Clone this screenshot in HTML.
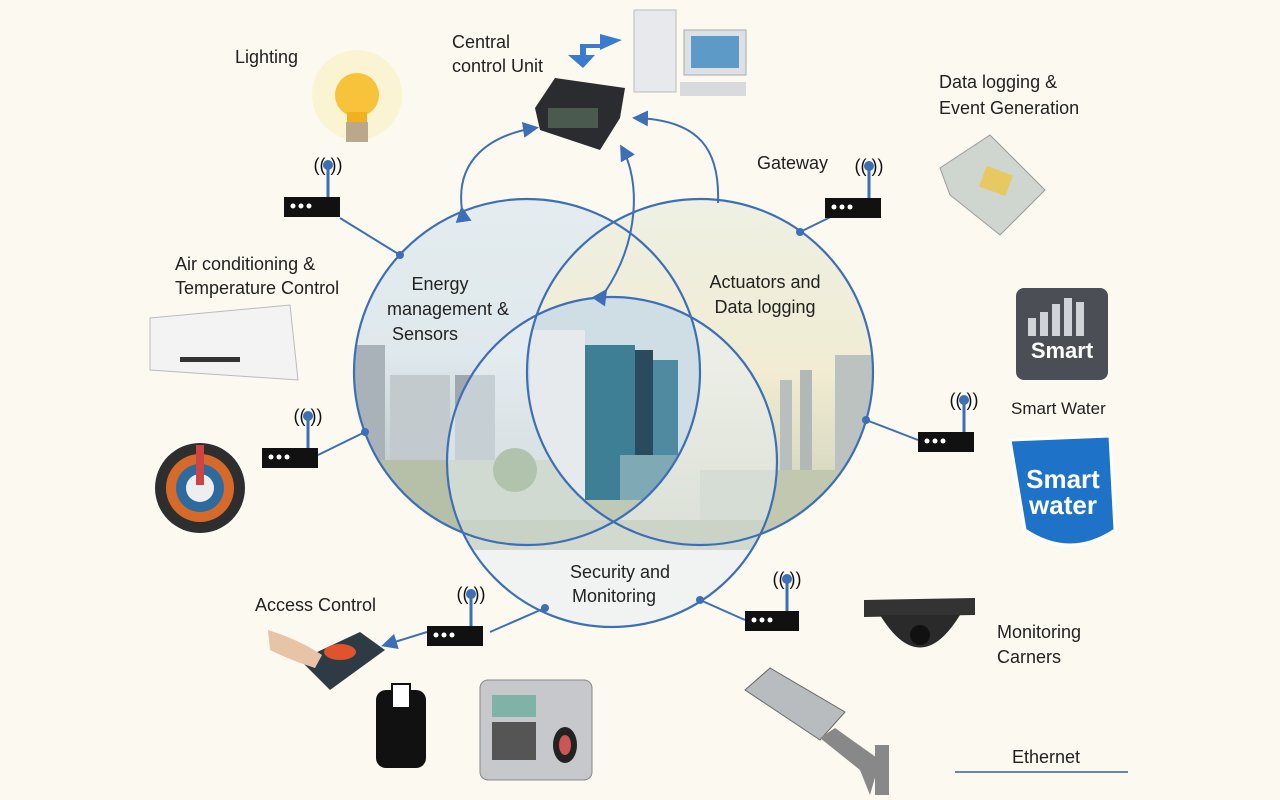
<!DOCTYPE html>
<html><head><meta charset="utf-8">
<style>
html,body{margin:0;padding:0;background:#fbf9f0;}
svg{display:block;font-family:"Liberation Sans",sans-serif;}
</style></head><body>
<svg width="1280" height="800" viewBox="0 0 1280 800" xmlns="http://www.w3.org/2000/svg">
<defs>
<linearGradient id="sky" x1="0" y1="0" x2="0" y2="1">
<stop offset="0" stop-color="#e4ecef"/><stop offset="0.45" stop-color="#dfe8ec"/><stop offset="0.7" stop-color="#c9d3d6"/><stop offset="1" stop-color="#b8c4b2"/>
</linearGradient>
<linearGradient id="warm" x1="0" y1="0" x2="0" y2="1">
<stop offset="0" stop-color="#eef0e4"/><stop offset="0.5" stop-color="#f1ecd2"/><stop offset="1" stop-color="#c8cdb6"/>
</linearGradient>
<clipPath id="cL"><circle cx="527" cy="372" r="173"/></clipPath>
<clipPath id="cR"><circle cx="700" cy="372" r="173"/></clipPath>
<clipPath id="cB"><circle cx="612" cy="462" r="165"/></clipPath>
<marker id="ar" markerWidth="8" markerHeight="8" refX="6" refY="4" orient="auto"><path d="M0,0 L8,4 L0,8 Z" fill="#3d6fb6"/></marker>
</defs>
<rect width="1280" height="800" fill="#fbf9f0"/>

<!-- circle fills -->
<circle cx="527" cy="372" r="173" fill="url(#sky)"/>
<circle cx="700" cy="372" r="173" fill="url(#warm)"/>
<g clip-path="url(#cL)">
<rect x="355" y="345" width="30" height="120" fill="#a9b2b8"/>
<rect x="390" y="375" width="60" height="95" fill="#c3cacd"/>
<rect x="455" y="375" width="40" height="100" fill="#9ea8ae"/>
<rect x="340" y="460" width="360" height="90" fill="#b6c0a8"/>
<circle cx="515" cy="470" r="22" fill="#6f8f5a"/>
</g>
<g clip-path="url(#cR)">
<rect x="780" y="380" width="12" height="100" fill="#b9bfbf"/>
<rect x="800" y="370" width="12" height="110" fill="#b2b8b8"/>
<rect x="835" y="355" width="40" height="130" fill="#bcc2c0"/>
<rect x="700" y="470" width="180" height="80" fill="#c2c8b0"/>
</g>
<circle cx="612" cy="462" r="165" fill="#e7eef2" opacity="0.55"/>
<g clip-path="url(#cB)">
<rect x="440" y="520" width="350" height="30" fill="#c5cfc0" opacity="0.7"/>
</g>
<!-- center building -->
<g clip-path="url(#cL)"><g clip-path="url(#cR)"><g clip-path="url(#cB)">
<rect x="500" y="290" width="220" height="250" fill="#cfdde4"/>
<rect x="530" y="330" width="55" height="180" fill="#e6eaec"/>
<rect x="585" y="345" width="50" height="165" fill="#3f7f95"/>
<rect x="635" y="350" width="18" height="160" fill="#2a4a5e"/>
<rect x="653" y="360" width="25" height="150" fill="#4e8aa0"/>
<rect x="620" y="455" width="60" height="50" fill="#7fa9b5"/>
<rect x="500" y="500" width="220" height="40" fill="#bfc9b8"/>
</g></g></g>
<g fill="none" stroke="#3d6fb6" stroke-width="2.2">
<circle cx="527" cy="372" r="173"/>
<circle cx="700" cy="372" r="173"/>
<circle cx="612" cy="462" r="165"/>
</g>

<!-- circle labels -->
<g font-size="18" fill="#222" text-anchor="middle">
<text x="440" y="290">Energy</text>
<text x="448" y="315">management &amp;</text>
<text x="425" y="340">Sensors</text>
<text x="765" y="288">Actuators and</text>
<text x="765" y="313">Data logging</text>
<text x="620" y="578">Security and</text>
<text x="614" y="602">Monitoring</text>
</g>

<!-- connectors -->
<g fill="none" stroke="#3d6fb6" stroke-width="2">
<path d="M462,210 C455,160 490,135 535,128" marker-end="url(#ar)" marker-start="url(#ar)"/>
<path d="M605,292 C640,240 640,180 622,148" marker-end="url(#ar)" marker-start="url(#ar)"/>
<path d="M718,203 C720,150 700,120 636,118" marker-end="url(#ar)"/>
<line x1="340" y1="218" x2="400" y2="255"/>
<line x1="855" y1="205" x2="800" y2="232"/>
<line x1="318" y1="455" x2="365" y2="432"/>
<line x1="866" y1="420" x2="918" y2="440"/>
<line x1="545" y1="608" x2="490" y2="632"/>
<line x1="427" y1="632" x2="385" y2="645" marker-end="url(#ar)"/>
<line x1="700" y1="600" x2="745" y2="620"/>
</g>
<g fill="#3d6fb6">
<circle cx="400" cy="255" r="4"/><circle cx="800" cy="232" r="4"/><circle cx="365" cy="432" r="4"/>
<circle cx="866" cy="420" r="4"/><circle cx="545" cy="608" r="4"/><circle cx="700" cy="600" r="4"/>
</g>

<!-- routers -->
<g id="routers">
<g transform="translate(284,197)"><rect width="56" height="20" fill="#111"/><circle cx="9" cy="9" r="2.5" fill="#fff"/><circle cx="17" cy="9" r="2.5" fill="#fff"/><circle cx="25" cy="9" r="2.5" fill="#fff"/><line x1="44" y1="0" x2="44" y2="-30" stroke="#3d6fb6" stroke-width="3"/><circle cx="44" cy="-32" r="5" fill="#3d6fb6"/><text x="44" y="-26" font-size="18" text-anchor="middle" fill="#111">((  ))</text></g>
<g transform="translate(825,198)"><rect width="56" height="20" fill="#111"/><circle cx="9" cy="9" r="2.5" fill="#fff"/><circle cx="17" cy="9" r="2.5" fill="#fff"/><circle cx="25" cy="9" r="2.5" fill="#fff"/><line x1="44" y1="0" x2="44" y2="-30" stroke="#3d6fb6" stroke-width="3"/><circle cx="44" cy="-32" r="5" fill="#3d6fb6"/><text x="44" y="-26" font-size="18" text-anchor="middle" fill="#111">((  ))</text></g>
<g transform="translate(262,448)"><rect width="56" height="20" fill="#111"/><circle cx="9" cy="9" r="2.5" fill="#fff"/><circle cx="17" cy="9" r="2.5" fill="#fff"/><circle cx="25" cy="9" r="2.5" fill="#fff"/><line x1="46" y1="0" x2="46" y2="-30" stroke="#3d6fb6" stroke-width="3"/><circle cx="46" cy="-32" r="5" fill="#3d6fb6"/><text x="46" y="-26" font-size="18" text-anchor="middle" fill="#111">((  ))</text></g>
<g transform="translate(918,432)"><rect width="56" height="20" fill="#111"/><circle cx="9" cy="9" r="2.5" fill="#fff"/><circle cx="17" cy="9" r="2.5" fill="#fff"/><circle cx="25" cy="9" r="2.5" fill="#fff"/><line x1="46" y1="0" x2="46" y2="-30" stroke="#3d6fb6" stroke-width="3"/><circle cx="46" cy="-32" r="5" fill="#3d6fb6"/><text x="46" y="-26" font-size="18" text-anchor="middle" fill="#111">((  ))</text></g>
<g transform="translate(427,626)"><rect width="56" height="20" fill="#111"/><circle cx="9" cy="9" r="2.5" fill="#fff"/><circle cx="17" cy="9" r="2.5" fill="#fff"/><circle cx="25" cy="9" r="2.5" fill="#fff"/><line x1="44" y1="0" x2="44" y2="-30" stroke="#3d6fb6" stroke-width="3"/><circle cx="44" cy="-32" r="5" fill="#3d6fb6"/><text x="44" y="-26" font-size="18" text-anchor="middle" fill="#111">((  ))</text></g>
<g transform="translate(745,611)"><rect width="54" height="20" fill="#111"/><circle cx="9" cy="9" r="2.5" fill="#fff"/><circle cx="17" cy="9" r="2.5" fill="#fff"/><circle cx="25" cy="9" r="2.5" fill="#fff"/><line x1="42" y1="0" x2="42" y2="-30" stroke="#3d6fb6" stroke-width="3"/><circle cx="42" cy="-32" r="5" fill="#3d6fb6"/><text x="42" y="-26" font-size="18" text-anchor="middle" fill="#111">((  ))</text></g>
</g>

<!-- labels -->
<g font-size="18" fill="#222">
<text x="235" y="63">Lighting</text>
<text x="452" y="48">Central</text>
<text x="452" y="72">control Unit</text>
<text x="939" y="88">Data logging &amp;</text>
<text x="939" y="114">Event Generation</text>
<text x="757" y="169">Gateway</text>
<text x="175" y="270">Air conditioning &amp;</text>
<text x="175" y="294">Temperature Control</text>
<text x="1011" y="414" font-size="17">Smart Water</text>
<text x="255" y="611">Access Control</text>
<text x="997" y="638">Monitoring</text>
<text x="997" y="663">Carners</text>
<text x="1012" y="763">Ethernet</text>
</g>
<line x1="955" y1="772" x2="1128" y2="772" stroke="#6b86a8" stroke-width="2"/>

<!-- lightbulb -->
<circle cx="357" cy="95" r="45" fill="#fbf0c0" opacity="0.6"/>
<circle cx="357" cy="95" r="22" fill="#f6c33a"/>
<rect x="347" y="112" width="20" height="10" fill="#f0b020"/>
<rect x="346" y="122" width="22" height="20" fill="#b9a98a"/>

<!-- central control unit -->
<polygon points="535,108 555,78 625,88 620,118 600,150 540,130" fill="#2a2c30"/>
<rect x="548" y="108" width="50" height="20" fill="#4a5a4c"/>
<!-- PC -->
<rect x="634" y="10" width="42" height="82" fill="#e7e9ec" stroke="#bbb"/>
<rect x="684" y="30" width="62" height="45" fill="#dde0e4" stroke="#aaa"/>
<rect x="691" y="36" width="48" height="32" fill="#5e9ac8"/>
<rect x="680" y="82" width="66" height="14" fill="#d8dadd"/>
<path d="M580,60 L580,44 L600,44 L600,34 L622,40 L600,50 L600,48 L586,48 L586,60 Z" fill="#3a7bd0"/>
<path d="M568,55 L595,55 L583,68 Z" fill="#3a7bd0"/>

<!-- data logger -->
<polygon points="940,168 990,135 1045,190 1000,235 950,195" fill="#cfd6d0" stroke="#999"/>
<rect x="982" y="170" width="28" height="22" fill="#e8c860" transform="rotate(20 996 181)"/>

<!-- AC -->
<path d="M150,318 L290,305 L298,380 L150,370 Z" fill="#f3f3f3" stroke="#bbb"/>
<rect x="180" y="357" width="60" height="5" fill="#333"/>

<!-- thermostat -->
<circle cx="200" cy="488" r="45" fill="#2e2e2e"/>
<circle cx="200" cy="488" r="34" fill="#d66a2a"/>
<circle cx="200" cy="488" r="24" fill="#2d6a9e"/>
<circle cx="200" cy="488" r="14" fill="#eee"/>
<rect x="196" y="445" width="8" height="40" fill="#c44" />

<!-- smart meter -->
<rect x="1016" y="288" width="92" height="92" rx="8" fill="#4b4f55"/>
<g fill="#cfd2d6"><rect x="1028" y="318" width="8" height="18"/><rect x="1040" y="312" width="8" height="24"/><rect x="1052" y="304" width="8" height="32"/><rect x="1064" y="298" width="8" height="38"/><rect x="1076" y="302" width="8" height="34"/></g>
<text x="1062" y="358" font-size="22" fill="#fff" text-anchor="middle" font-weight="bold">Smart</text>
<!-- smart water logo -->
<path d="M1010,440 L1110,436 L1115,530 Q1070,560 1025,530 Z" fill="#1e73c8" stroke="#fff" stroke-width="3"/>
<text x="1063" y="488" font-size="26" fill="#fff" text-anchor="middle" font-weight="bold">Smart</text>
<text x="1063" y="514" font-size="26" fill="#fff" text-anchor="middle" font-weight="bold">water</text>

<!-- access control -->
<polygon points="300,660 360,632 385,650 330,690" fill="#2f3b44"/>
<ellipse cx="340" cy="652" rx="16" ry="8" fill="#e0532c"/>
<path d="M268,630 Q300,640 322,655 L315,668 Q290,660 270,650 Z" fill="#e8c4a6"/>
<rect x="376" y="690" width="50" height="78" rx="10" fill="#111"/>
<rect x="392" y="684" width="18" height="24" fill="#fff" stroke="#111" stroke-width="2"/>
<!-- biometric -->
<rect x="480" y="680" width="112" height="100" rx="8" fill="#c6c8cc" stroke="#888"/>
<rect x="492" y="695" width="44" height="22" fill="#7fb3a8"/>
<rect x="492" y="722" width="44" height="38" fill="#555"/>
<ellipse cx="565" cy="745" rx="12" ry="18" fill="#222"/>
<ellipse cx="565" cy="745" rx="6" ry="10" fill="#c55"/>

<!-- dome camera -->
<path d="M864,600 L975,598 L975,615 L864,617 Z" fill="#333"/>
<path d="M880,615 Q920,680 960,615 Z" fill="#2a2a2a"/>
<circle cx="920" cy="635" r="10" fill="#111"/>
<!-- bullet camera -->
<polygon points="745,690 770,668 845,712 820,740" fill="#b9bcbf" stroke="#666"/>
<polygon points="820,738 835,728 880,760 870,795 860,770" fill="#888"/>
<rect x="875" y="745" width="14" height="50" fill="#888"/>
</svg>
</body></html>
